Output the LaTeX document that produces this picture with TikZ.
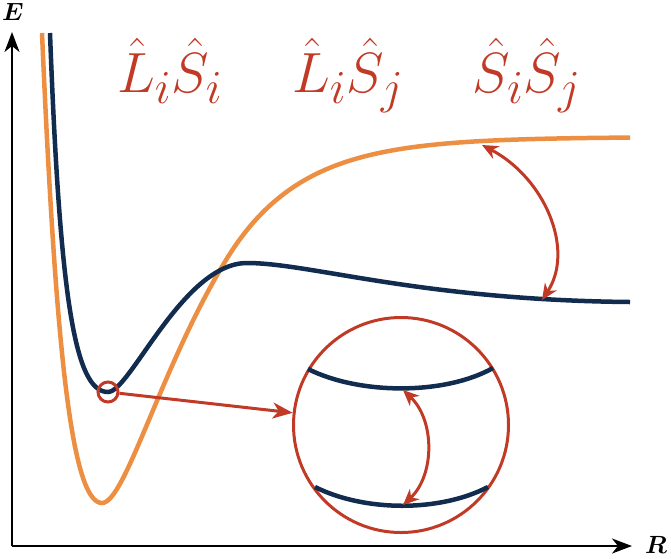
\documentclass[tikz,border=0pt]{standalone}
\usepackage{xcolor}
\usepackage{graphicx}
\usepackage{amsmath, amssymb, bm}
\usepackage{tikz}
\usetikzlibrary{arrows.meta, calc, positioning}

\definecolor{curveorange}{RGB}{236,143,66}
\definecolor{curvenavy}{RGB}{17,44,78}
\definecolor{markred}{RGB}{192,58,38}

\newcommand{\bigterm}[1]{\scalebox{2.28}{$#1$}}

\tikzset{
  axis/.style={line width=2pt, -{Stealth[length=20pt, width=15pt, inset=6pt]}},
  redarrow/.style={markred, line width=3pt, {Stealth[length=16pt, width=14pt, inset=5pt]}-{Stealth[length=16pt, width=14pt, inset=5pt]}},
  opterm/.style={markred, anchor=base, font=\fontsize{24.88}{30}\selectfont},
  axlabel/.style={font=\fontsize{24.88}{30}\selectfont},
}

\begin{document}
\begin{tikzpicture}[x=1pt, y=-1pt]
\useasboundingbox (0,0) rectangle (671,558);

% Axes
\coordinate (O) at (12,546);
\coordinate (Etip) at (12,32);
\coordinate (Rtip) at (632,546);
\draw[axis] (O) -- (Etip);
\draw[axis] (O) -- (Rtip);
\node[axlabel] (Elabel) at (13,12) {$\bm{E}$};
\node[axlabel] (Rlabel) at (656,545) {$\bm{R}$};

% Potential curves
\draw[curveorange, line width=4.5pt] (42,33) .. controls (55,330) and (70,503) .. (102,503)
  .. controls (125,503) and (160,370) .. (223,265)
  -- plot[domain=223:630, samples=80] (\x, {137+128*exp(-(\x-223)/75)});
\draw[curvenavy, line width=4.5pt] (50,33) .. controls (60,300) and (75,392) .. (108,392)
  .. controls (130,392) and (183,263) .. (247,263)
  .. controls (310,263) and (420,300) .. (630,302);

% Operator labels
\node[opterm] (lblLiSi) at (170,92) {\bigterm{\hat{L}_i\hat{S}_i}};
\node[opterm] (lblLiSj) at (348,92) {\bigterm{\hat{L}_i\hat{S}_j}};
\node[opterm] (lblSiSj) at (527,92) {\bigterm{\hat{S}_i\hat{S}_j}};

% Splitting between asymptotes
\coordinate (asymTop) at (482,145);
\coordinate (asymBot) at (542,300);
\draw[redarrow] (asymTop) .. controls (545,178) and (575,250) .. (asymBot);

% Magnified well
\node[draw=markred, line width=3pt, circle, inner sep=0pt, minimum size=20pt] (zoom) at (108,392) {};
\node[draw=markred, line width=3pt, circle, inner sep=0pt, minimum size=215pt] (lens) at (401,425) {};
\draw[markred, line width=3pt, -{Stealth[length=20pt, width=16pt, inset=6pt]}] (zoom) -- (lens);

\draw[curvenavy, line width=4.5pt] (308,369) .. controls (360,395) and (445,395) .. (493,368);
\draw[curvenavy, line width=4.5pt] (315,487) .. controls (365,512) and (440,512) .. (488,487);
\coordinate (levTop) at (403,390);
\coordinate (levBot) at (403,505);
\draw[redarrow] (levTop) .. controls (435,420) and (435,475) .. (levBot);

\end{tikzpicture}
\end{document}
